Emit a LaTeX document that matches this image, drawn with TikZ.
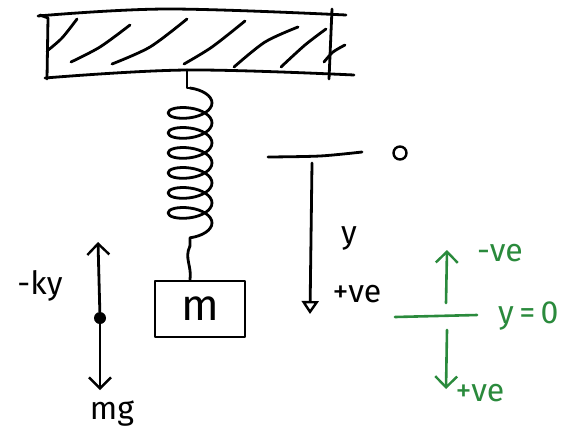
\documentclass[tikz,border=0pt]{standalone}
\usepackage{fontspec}
\setmainfont{Fira Sans}
\usetikzlibrary{decorations.pathmorphing, arrows.meta}
\definecolor{pen}{HTML}{2A8A3C}

\begin{document}
\begin{tikzpicture}[x=1pt, y=-1pt, line cap=round, line join=round,
  stroke/.style={line width=2.8pt, draw=black},
  gstroke/.style={line width=2.6pt, draw=pen},
  lbl/.style={font=\fontsize{32}{32}\selectfont, inner sep=0pt},
  glbl/.style={lbl, text=pen},
  openhead/.style={-{Triangle[open, length=13pt, width=17pt, line width=2.4pt]}},
  barb/.style={-{Straight Barb[length=11pt, width=22pt, line width=2.4pt]}},
  ]
\useasboundingbox (0,0) rectangle (585,445);

% ---- fixed support (hatched ceiling) ----
\draw[stroke] plot[smooth, tension=0.6] coordinates {(38,16) (167,9) (346,15)};
\draw[stroke] plot[smooth, tension=0.6] coordinates {(45,78) (187,70) (354,75)};
\draw[stroke] (40,15) -- (48,18) -- (47,79);
\draw[stroke] (332,9) -- (329,79);
\foreach \a/\b/\c in {
  {(47,51)}/{(62,38)}/{(77,19)},
  {(71,62)}/{(100,47)}/{(130,25)},
  {(112,64)}/{(150,47)}/{(187,19)},
  {(184,64)}/{(212,47)}/{(245,21)},
  {(234,67)}/{(265,42)}/{(298,27)},
  {(281,67)}/{(305,45)}/{(326,29)},
  {(324,62)}/{(333,52)}/{(345,45)}}
  \draw[stroke] plot[smooth] coordinates {\a \b \c};
\coordinate (ceil) at (187,70);

% ---- spring and mass ----
\node[draw, line width=2.8pt, minimum width=90pt, minimum height=56pt,
      inner sep=0pt] (mass) at (200,309) {\fontsize{44}{44}\selectfont m};
\coordinate (coiltop) at (190,88);
\coordinate (coilend) at (190,246);
\draw[stroke] (ceil) -- (187,88) -- (coiltop);
\draw[stroke, decorate, decoration={coil, amplitude=22pt, segment length=20pt, aspect=0.45}]
  (coiltop) -- (coilend);
\draw[stroke] (coilend) .. controls (184,258) and (192,266) .. (mass.north -| 190,0);

% ---- position axis ----
\coordinate (lvl0) at (268,157);
\coordinate (lvl1) at (362,152);
\draw[stroke] plot[smooth] coordinates {(lvl0) (320,156) (lvl1)};
\node[draw, circle, line width=2.4pt, minimum width=13pt, minimum height=12pt,
      inner sep=0pt] (origin) at (400,153) {};
\coordinate (ytop) at (312,163);
\coordinate (ybot) at (310,314);
\draw[stroke, openhead] (ytop) -- (ybot);
\node[lbl] (ylab) at (349,238) {y};
\node[lbl] (ypos) at (357,294) {+ve};

% ---- forces on the mass ----
\node[circle, fill=black, minimum size=12pt, inner sep=0pt] (dot) at (100,318) {};
\coordinate (fup) at (98,242);
\coordinate (fdown) at (100,390);
\draw[stroke, barb] (dot) -- (fup);
\draw[stroke, barb] (dot) -- (fdown);
\node[lbl] (ky) at (40,286) {-ky};
\node[lbl] (mg) at (112,414) {mg};

% ---- equilibrium sign convention ----
\coordinate (eq0) at (395,317);
\coordinate (eq1) at (477,315);
\draw[gstroke] (eq0) -- (eq1);
\coordinate (gup0) at (446,303);
\coordinate (gup1) at (447,250);
\coordinate (gdn0) at (447,330);
\coordinate (gdn1) at (446,389);
\draw[gstroke, barb] (gup0) -- (gup1);
\draw[gstroke, barb] (gdn0) -- (gdn1);
\node[glbl] (gneg) at (500,253) {-ve};
\node[glbl] (gpos) at (480,393) {+ve};
\node[glbl, anchor=west] (geq) at (498,316) {y\,=\,0};
\end{tikzpicture}
\end{document}
